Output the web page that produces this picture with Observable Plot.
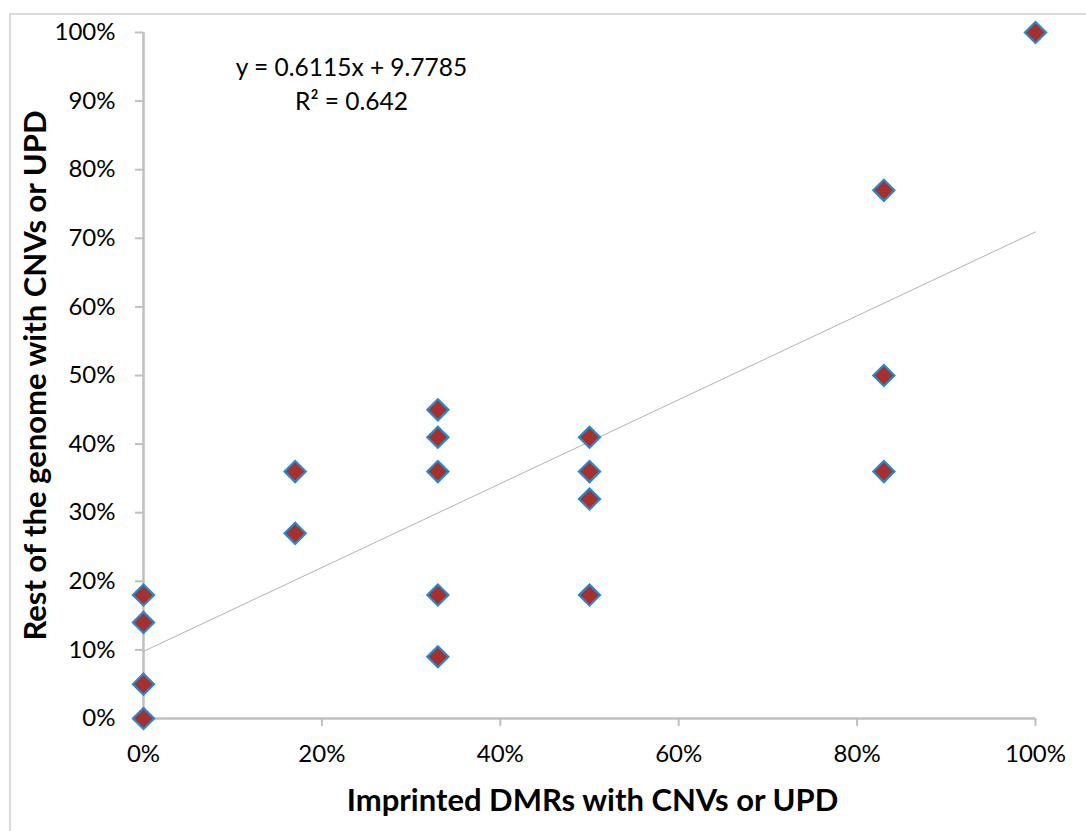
<!DOCTYPE html>
<html>
<head>
<meta charset="utf-8">
<script src="https://cdn.jsdelivr.net/npm/d3@7"></script>
<script src="https://cdn.jsdelivr.net/npm/@observablehq/plot@0.6"></script>
<style>
  html, body { margin: 0; padding: 0; background: #fff; overflow: hidden; }
  #wrap { position: relative; width: 1086px; height: 831px; }
  #border { position: absolute; left: 9px; top: 13px; width: 1120px; height: 900px; border: 2px solid #d9d9d9; box-sizing: border-box; }
  #chart { position: absolute; left: 0; top: 0; }
</style>
</head>
<body>
<div id="wrap"><div id="border"></div><div id="chart"></div></div>
<script>
// Imprinted DMRs with CNVs or UPD (%)
const xValues = [0, 0, 0, 0, 17, 17, 33, 33, 33, 33, 33, 50, 50, 50, 50, 83, 83, 83, 100];
// Rest of the genome with CNVs or UPD (%)
const yValues = [18, 14, 5, 0, 36, 27, 45, 41, 36, 18, 9, 41, 36, 32, 18, 77, 50, 36, 100];
const xTicks = [0, 20, 40, 60, 80, 100];
const yTicks = [0, 10, 20, 30, 40, 50, 60, 70, 80, 90, 100];
const trendSlope = 0.6115;
const trendIntercept = 9.7785;
const rSquared = 0.642;
const xTitle = "Imprinted DMRs with CNVs or UPD";
const yTitle = "Rest of the genome with CNVs or UPD";

const points = xValues.map((x, i) => ({x, y: yValues[i]}));
const xExtent = [d3.min(xValues), d3.max(xValues)];
const trend = xExtent.map(x => ({x, y: trendSlope * x + trendIntercept}));
const eqText = `y = ${trendSlope}x + ${trendIntercept}\nR² = ${rSquared}`;

const font = "Lato, 'Open Sans', sans-serif";
const axisColor = "#bfbfbf";

const chart = Plot.plot({
  width: 1086,
  height: 831,
  marginLeft: 143,
  marginRight: 51,
  marginTop: 32,
  marginBottom: 113,
  style: {fontFamily: font, background: "transparent", color: "#000", overflow: "visible"},
  x: {domain: [0, 100]},
  y: {domain: [0, 100]},
  marks: [
    Plot.axisX({ticks: xTicks, tickFormat: d => d + "%", tickSize: 8, tickPadding: 18, fontSize: 24, stroke: axisColor, strokeWidth: 2, fill: "#000", label: null}),
    Plot.axisY({ticks: yTicks, tickFormat: d => d + "%", tickSize: 8, tickPadding: 20, fontSize: 24, stroke: axisColor, strokeWidth: 2, fill: "#000", label: null}),
    Plot.ruleY([0], {stroke: axisColor, strokeWidth: 2.5}),
    Plot.ruleX([0], {stroke: axisColor, strokeWidth: 2.5}),
    Plot.line(trend, {x: "x", y: "y", stroke: "#b3b3b3", strokeWidth: 1}),
    Plot.dot(points, {x: "x", y: "y", symbol: "diamond2", r: 9.5, fill: "#a5302e", stroke: "#2b87cb", strokeWidth: 2.2, fillOpacity: 1}),
    Plot.text([eqText], {frameAnchor: "top-left", dx: 208, dy: 50, text: d => d, textAnchor: "middle", lineAnchor: "middle", lineHeight: 1.39, fontSize: 24.5, fill: "#000"}),
    Plot.text([xTitle], {frameAnchor: "bottom", dx: 3, dy: 83, text: d => d, textAnchor: "middle", lineAnchor: "middle", fontSize: 31, fontWeight: "bold", fill: "#000"}),
    Plot.text([yTitle], {frameAnchor: "left", dx: -107, dy: 0, rotate: -90, text: d => d, textAnchor: "middle", lineAnchor: "middle", fontSize: 31, fontWeight: "bold", fill: "#000"})
  ]
});
document.getElementById("chart").appendChild(chart);
</script>
</body>
</html>
